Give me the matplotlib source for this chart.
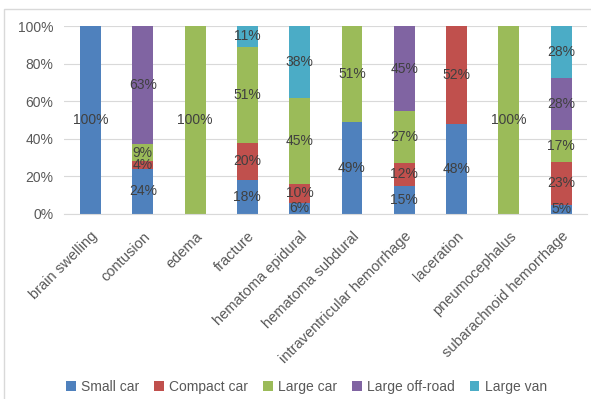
import matplotlib.pyplot as plt
from matplotlib.patches import Rectangle
from matplotlib.ticker import PercentFormatter

plt.rcParams["font.family"] = ["Liberation Sans", "DejaVu Sans"]

categories = ["brain swelling", "contusion", "edema", "fracture", "hematoma epidural",
              "hematoma subdural", "intraventricular hemorrhage", "laceration",
              "pneumocephalus", "subarachnoid hemorrhage"]
series = ["Small car", "Compact car", "Large car", "Large off-road", "Large van"]
small_car = [100, 24, 0, 18, 6, 49, 15, 48, 0, 5]
compact_car = [0, 4, 0, 20, 10, 0, 12, 52, 0, 23]
large_car = [0, 9, 100, 51, 45, 51, 27, 0, 100, 17]
large_offroad = [0, 63, 0, 0, 0, 0, 45, 0, 0, 28]
large_van = [0, 0, 0, 11, 38, 0, 0, 0, 0, 28]
colors = ["#4F81BD", "#C0504D", "#9BBB59", "#8064A2", "#4BACC6"]

all_vals = [small_car, compact_car, large_car, large_offroad, large_van]
# 100% stacked: scale each column to its total
totals = [sum(col) for col in zip(*all_vals)]

fig = plt.figure(figsize=(5.91, 3.99), dpi=100)
ax = fig.add_axes([0.1088, 0.4637, 0.885, 0.4711])

x = range(len(categories))
bottom = [0] * len(categories)
for name, vals, col in zip(series, all_vals, colors):
    pct = [v / t * 100 for v, t in zip(vals, totals)]
    bars = ax.bar(x, pct, 0.4, bottom=bottom, color=col, label=name, zorder=2)
    ax.bar_label(bars, labels=[f"{p:.0f}%" if p else "" for p in pct], label_type="center",
                 fontsize=10, color="#404040")
    bottom = [b + p for b, p in zip(bottom, pct)]

ax.set_xlim(-0.5, len(categories) - 0.5)
ax.set_ylim(0, 100)
ax.set_yticks(range(0, 101, 20))
ax.yaxis.set_major_formatter(PercentFormatter(decimals=0))
ax.set_xticks(list(x))
ax.set_xticklabels(categories, rotation=45, ha="right", rotation_mode="anchor")
ax.tick_params(axis="both", labelsize=10, colors="#595959", length=0)
ax.tick_params(axis="x", labelsize=10.5, pad=11)
ax.tick_params(axis="y", pad=8)
ax.grid(axis="y", color="#D9D9D9", linewidth=0.8, zorder=0)
for s in ["top", "right", "left"]:
    ax.spines[s].set_visible(False)
ax.spines["bottom"].set_color("#D9D9D9")

ax.legend(loc="center", bbox_to_anchor=(0.463, -0.92), ncol=5, frameon=False,
          fontsize=10, handlelength=0.7, handleheight=0.7, handletextpad=0.4,
          columnspacing=1.05, labelcolor="#595959")

fig.patches.append(Rectangle((4 / 591, -0.05), 1.1, 0.977 + 0.05, transform=fig.transFigure,
                             fill=False, edgecolor="#D9D9D9", linewidth=1))

fig.savefig("out.png", dpi=100)
